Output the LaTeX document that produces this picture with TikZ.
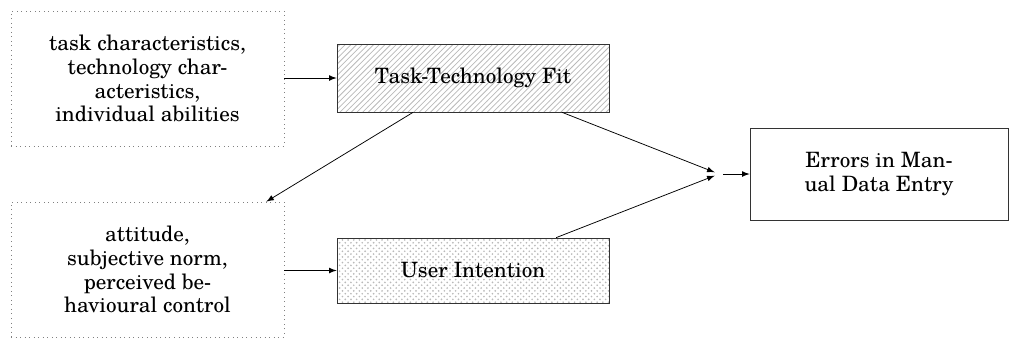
\documentclass[tikz,border=0pt]{standalone}
\usepackage{fontspec}
\setmainfont{TeX Gyre Schola}
\usetikzlibrary{patterns,calc,arrows.meta}
\begin{document}
\begin{tikzpicture}[x=0.53pt,y=-0.53pt,
  every node/.style={font=\fontsize{11.2}{12.6}\selectfont},
  dotbox/.style={draw=gray, dotted, rectangle, inner sep=0pt, align=center, minimum width=144.69pt, minimum height=71.55pt},
  hatchbox/.style={draw=black!80, rectangle, inner sep=0pt, align=center, pattern=north east lines, pattern color=gray!55, minimum width=144.16pt},
  dotsbox/.style={draw=black!80, rectangle, inner sep=0pt, align=center, pattern=crosshatch dots, pattern color=gray!55, minimum width=144.16pt},
  plainbox/.style={draw=black!80, rectangle, inner sep=0pt, align=center, minimum width=136.74pt, minimum height=48.76pt},
  junction/.style={rectangle, inner sep=0pt, minimum size=4.24pt},
  conn/.style={-latex, black}]
\useasboundingbox (0,0) rectangle (1010,339);
\node[dotbox] (a) at (147.5,78.5) {task characteristics,\\technology char-\\acteristics,\\individual abilities};
\node[dotbox] (b) at (147.5,269.5) {attitude,\\subjective norm,\\perceived be-\\havioural control};
\node[hatchbox, minimum height=36.04pt] (ttf) at (473,78) {Task-Technology Fit};
\node[dotsbox, minimum height=34.45pt] (ui) at (473,270.5) {User Intention};
\node[plainbox] (e) at (879,174) {Errors in Man-\\ual Data Entry};
\node[junction] (j) at (719,174) {};
\draw[conn] (a.east |- ttf.west) -- (ttf.west);
\draw[conn] (b.east |- ui.west) -- (ui.west);
\draw[conn] ($(ttf.south west)!0.28!(ttf.south east)$) -- ($(b.north west)!0.934!(b.north east)$);
\draw[conn] ($(ttf.south west)!0.827!(ttf.south east)$) -- (j);
\draw[conn] ($(ui.north west)!0.805!(ui.north east)$) -- (j);
\draw[conn] (j.east) -- (e.west);
\end{tikzpicture}
\end{document}
